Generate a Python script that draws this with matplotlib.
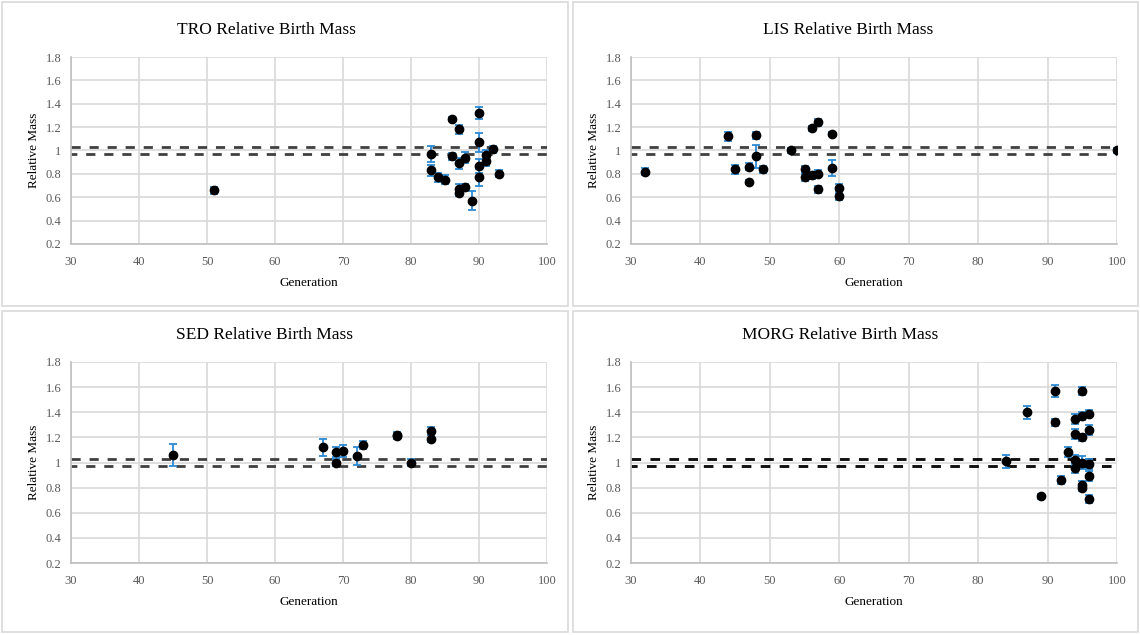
import numpy as np
from matplotlib import pyplot as plt
from matplotlib.patches import Rectangle

plt.rcParams['font.family'] = ['Liberation Serif', 'DejaVu Serif']

# TRO
troGen = [51, 83, 83, 84, 85, 86, 86, 87, 87, 87, 87, 88, 88, 89, 90, 90, 90, 90, 91, 91, 92, 93]
troMass = [0.66, 0.97, 0.83, 0.77, 0.75, 1.27, 0.95, 1.18, 0.89, 0.67, 0.64, 0.94, 0.69, 0.57,
           1.32, 1.07, 0.87, 0.77, 0.96, 0.91, 1.01, 0.80]
troErr = [0.03, 0.07, 0.05, 0.04, 0.04, 0.02, 0.03, 0.04, 0.05, 0.04, 0.03, 0.05, 0.02, 0.08,
          0.05, 0.08, 0.06, 0.07, 0.04, 0.04, 0.03, 0.03]

# LIS
lisGen = [32, 44, 45, 47, 47, 48, 48, 49, 53, 55, 55, 56, 56, 57, 57, 57, 59, 59, 60, 60, 100]
lisMass = [0.82, 1.12, 0.84, 0.73, 0.86, 1.13, 0.95, 0.84, 1.0, 0.84, 0.77, 1.19, 0.79, 1.24,
           0.80, 0.67, 1.14, 0.85, 0.68, 0.61, 1.0]
lisErr = [0.03, 0.04, 0.04, 0.02, 0.03, 0.03, 0.10, 0.03, 0.02, 0.03, 0.03, 0.02, 0.03, 0.03,
          0.03, 0.03, 0.02, 0.07, 0.03, 0.03, 0.02]

# SED
sedGen = [45, 67, 69, 69, 70, 72, 73, 78, 78, 80, 83, 83]
sedMass = [1.06, 1.12, 1.08, 1.00, 1.09, 1.05, 1.14, 1.21, 1.22, 1.00, 1.25, 1.19]
sedErr = [0.09, 0.07, 0.04, 0.03, 0.05, 0.07, 0.03, 0.02, 0.02, 0.03, 0.03, 0.03]

# MORG
morgGen = [84, 87, 89, 91, 91, 92, 93, 94, 94, 94, 94, 95, 95, 95, 95, 95, 95,
           96, 96, 96, 96, 96]
morgMass = [1.01, 1.40, 0.73, 1.57, 1.32, 0.86, 1.08, 1.35, 1.23, 1.02, 0.96,
            1.57, 1.37, 1.20, 1.00, 0.82, 0.80, 1.39, 1.26, 0.99, 0.89, 0.71]
morgErr = [0.05, 0.05, 0.02, 0.05, 0.03, 0.03, 0.04, 0.04, 0.04, 0.04, 0.04,
           0.03, 0.03, 0.03, 0.05, 0.03, 0.03, 0.03, 0.04, 0.04, 0.04, 0.03]

bandHigh = 1.03
bandLow = 0.97
xTicks = [30, 40, 50, 60, 70, 80, 90, 100]
yTicks = [0.2, 0.4, 0.6, 0.8, 1.0, 1.2, 1.4, 1.6, 1.8]
yTickLabels = ['0.2', '0.4', '0.6', '0.8', '1', '1.2', '1.4', '1.6', '1.8']

W, H = 1140, 635
GRID = '#d9d9d9'
ERRBLUE = '#2b8ad4'

fig = plt.figure(figsize=(W / 100, H / 100), dpi=100)


def pxBox(x0, y0, x1, y1):
    return [x0 / W, 1 - y1 / H, (x1 - x0) / W, (y1 - y0) / H]


def drawBorder(x0, y0, x1, y1):
    b = pxBox(x0, y0, x1, y1)
    fig.add_artist(Rectangle((b[0], b[1]), b[2], b[3], transform=fig.transFigure,
                             fill=False, edgecolor=GRID, lw=1.2))


def drawPanel(box, title, titleX, titleY, gen, mass, err, dashColor, dashWidth):
    ax = fig.add_axes(pxBox(*box))
    ax.set_xlim(30, 100)
    ax.set_ylim(0.2, 1.8)
    ax.set_xticks(xTicks)
    ax.set_yticks(yTicks)
    ax.set_yticklabels(yTickLabels)
    ax.grid(True, color=GRID, lw=1.2)
    ax.set_axisbelow(True)
    for s in ['top', 'right']:
        ax.spines[s].set_visible(False)
    for s in ['left', 'bottom']:
        ax.spines[s].set_color('#bfbfbf')
        ax.spines[s].set_linewidth(1.2)
    ax.tick_params(length=0, labelsize=9, colors='#595959', pad=7)
    ax.tick_params(axis='x', pad=9)

    # +/- 3% band
    ax.axhline(bandHigh, color=dashColor, lw=dashWidth, linestyle=(0, (3.3, 3.2)), zorder=2)
    ax.axhline(bandLow, color=dashColor, lw=dashWidth, linestyle=(1.2, (3.3, 3.2)), zorder=2)

    ax.errorbar(gen, mass, yerr=err, fmt='none', ecolor=ERRBLUE, elinewidth=1.3,
                capsize=2.6, capthick=1.3, zorder=3)
    ax.plot(gen, mass, 'o', color='black', markersize=6, zorder=4)

    ax.set_xlabel('Generation', fontsize=9.5, labelpad=6)
    ax.set_ylabel('Relative Mass', fontsize=9.5, labelpad=4)
    fig.text(titleX / W, 1 - titleY / H, title, ha='center', va='center', fontsize=12.5)
    return ax


drawBorder(2, 2, 568, 306)
drawBorder(573, 2, 1138, 306)
drawBorder(2, 311, 568, 632)
drawBorder(573, 311, 1138, 632)

drawPanel((71, 57, 547, 244), 'TRO Relative Birth Mass', 266, 30,
          troGen, troMass, troErr, '#404040', 2.0)
drawPanel((631, 57, 1117, 244), 'LIS Relative Birth Mass', 848, 30,
          lisGen, lisMass, lisErr, '#404040', 2.0)
drawPanel((71, 362, 547, 563), 'SED Relative Birth Mass', 265, 335,
          sedGen, sedMass, sedErr, '#404040', 2.0)
drawPanel((631, 362, 1117, 563), 'MORG Relative Birth Mass', 840, 335,
          morgGen, morgMass, morgErr, '#111111', 2.1)

plt.savefig('out.png', dpi=100)
